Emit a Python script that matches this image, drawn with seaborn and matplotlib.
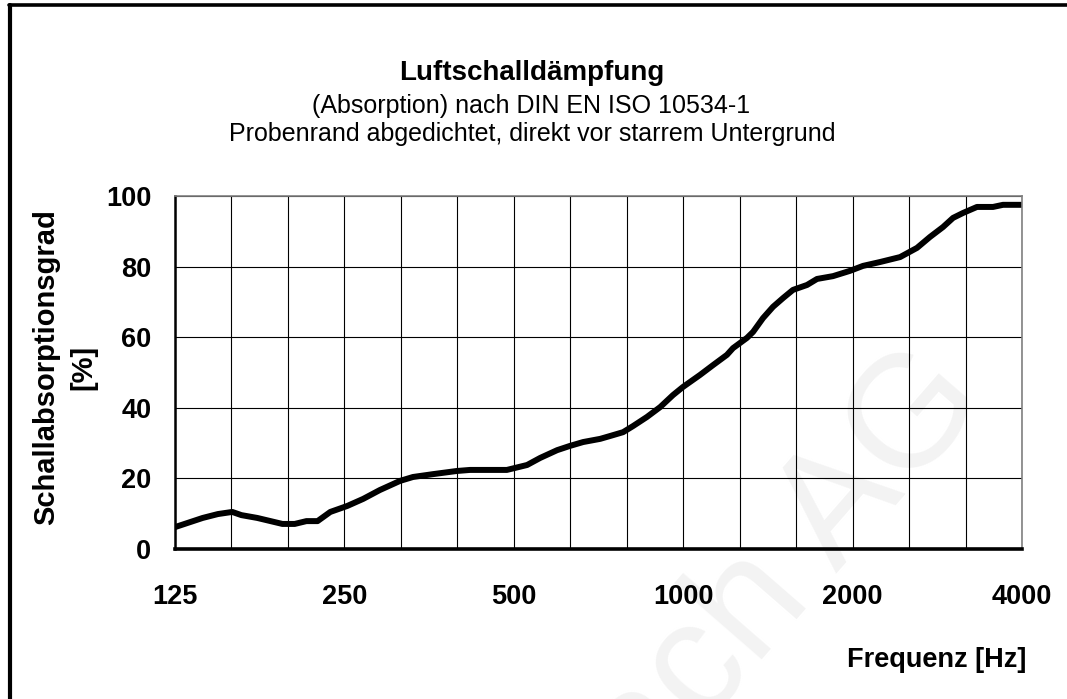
import numpy as np
import pandas as pd
import seaborn as sns
import matplotlib.pyplot as plt
from matplotlib.lines import Line2D

freq = [125, 140, 149, 158, 164, 175, 194, 204, 214, 224, 236, 253, 270, 289, 314,
        331, 359, 396, 418, 486, 528, 557, 597, 629, 664, 712, 741, 782, 814, 862,
        910, 959, 999, 1071, 1130, 1196, 1226, 1298, 1331, 1386, 1444, 1505, 1567, 1660, 1729,
        1846, 1979, 2087, 2238, 2429, 2603, 2745, 2895, 3017, 3143, 3327, 3553, 3701, 4000]
absorption = [6.2, 8.8, 9.9, 10.5, 9.6, 8.8, 7.1, 7.1, 7.9, 7.9, 10.5, 12.2, 14.2, 16.7, 19.3,
              20.4, 21.2, 22.1, 22.4, 22.4, 23.8, 25.8, 28.0, 29.2, 30.3, 31.2, 32.0, 33.1, 34.8, 37.4,
              40.2, 43.6, 45.9, 49.3, 52.1, 55.0, 56.9, 59.8, 61.5, 65.4, 68.6, 71.1, 73.4, 74.8, 76.5,
              77.3, 78.8, 80.2, 81.3, 82.7, 85.3, 88.4, 91.2, 93.8, 95.2, 96.9, 96.9, 97.5, 97.5]

# third-octave ticks, only octaves labelled
xticks = [125 * 2 ** (k / 3) for k in range(16)]
xlabels = ["125", "", "", "250", "", "", "500", "", "", "1000", "", "", "2000", "", "", "4000"]
yticks = [0, 20, 40, 60, 80, 100]

df = pd.DataFrame({"Frequenz": freq, "Absorption": absorption})

sns.set_style("white")
plt.rcParams["font.family"] = ["Liberation Sans", "DejaVu Sans"]
plt.rcParams["text.color"] = "black"
plt.rcParams["axes.labelcolor"] = "black"
plt.rcParams["xtick.color"] = "black"
plt.rcParams["ytick.color"] = "black"

fig = plt.figure(figsize=(10.67, 6.99), dpi=100)
W, H = 1067, 699
ax = fig.add_axes([175 / W, 1 - 549 / H, 847 / W, 353 / H])
ax.patch.set_facecolor("none")

sns.lineplot(data=df, x="Frequenz", y="Absorption", ax=ax, color="black", lw=4.3,
             solid_capstyle="butt", solid_joinstyle="round")

ax.set_xscale("log", base=2)
ax.set_xlim(125, 4000)
ax.set_ylim(0, 100)
ax.set_xticks(xticks)
ax.set_xticklabels(xlabels, fontsize=19.5, fontweight="bold")
ax.minorticks_off()
ax.set_yticks(yticks)
ax.set_yticklabels([str(v) for v in yticks], fontsize=19.5, fontweight="bold")
ax.tick_params(axis="both", direction="out", length=7, width=1.3, color="black",
               labelcolor="black")
ax.tick_params(axis="x", pad=18)
ax.tick_params(axis="y", pad=10)
ax.grid(True, color="black", lw=0.8)

for s in ["top", "right"]:
    ax.spines[s].set_color("#808080")
    ax.spines[s].set_linewidth(1.2)
ax.spines["left"].set_color("black")
ax.spines["left"].set_linewidth(1.8)
ax.spines["bottom"].set_color("black")
ax.spines["bottom"].set_linewidth(2.6)

ax.set_xlabel("Frequenz [Hz]", fontsize=19.5, fontweight="bold", ha="right", va="center")
ax.xaxis.set_label_coords((1026 - 175) / 847, (549 - 660) / 353)
ax.set_ylabel("Schallabsorptionsgrad\n[%]", fontsize=21, fontweight="bold",
              va="center", ha="center", linespacing=1.4)
ax.yaxis.set_label_coords((65 - 175) / 847, (549 - 367) / 353)

fig.text(532 / W, 1 - 73 / H, "Luftschalldämpfung", fontsize=20, fontweight="bold",
         ha="center", va="center")
fig.text(531 / W, 1 - 106 / H, "(Absorption) nach DIN EN ISO 10534-1", fontsize=18,
         ha="center", va="center")
fig.text(532 / W, 1 - 134 / H, "Probenrand abgedichtet, direkt vor starrem Untergrund",
         fontsize=18, ha="center", va="center")

# faint watermark behind the plot
fig.text(785 / W, 1 - 570 / H, "ach AG", fontsize=115, color="#f3f3f3", rotation=49,
         rotation_mode="anchor", ha="center", va="center", zorder=-5)

# chart frame (left and top edges visible)
fig.add_artist(Line2D([10 / W, 10 / W], [0, 1 - 4.5 / H], transform=fig.transFigure,
                      color="black", lw=3))
fig.add_artist(Line2D([8.5 / W, 1], [1 - 4.5 / H, 1 - 4.5 / H], transform=fig.transFigure,
                      color="black", lw=2.6))

fig.savefig("out.png", dpi=100, facecolor="white")
